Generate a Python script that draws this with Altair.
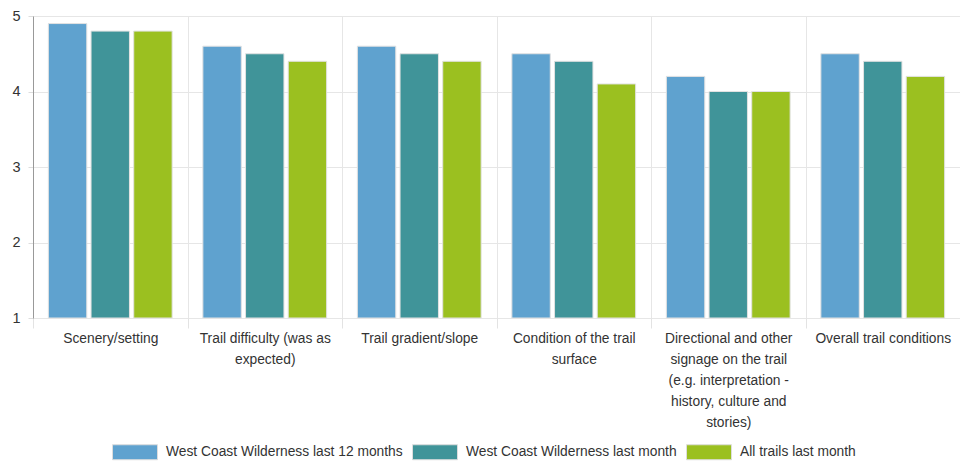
import altair as alt
import pandas as pd

# Category labels (wrapped into lines as in the reference)
label_lines = [
    ["Scenery/setting"],
    ["Trail difficulty (was as", "expected)"],
    ["Trail gradient/slope"],
    ["Condition of the trail", "surface"],
    ["Directional and other", "signage on the trail", "(e.g. interpretation -",
     "history, culture and", "stories)"],
    ["Overall trail conditions"],
]
categories = ["|".join(l) for l in label_lines]

series = [
    "West Coast Wilderness last 12 months",
    "West Coast Wilderness last month",
    "All trails last month",
]
wcw_12_months = [4.9, 4.6, 4.6, 4.5, 4.2, 4.5]
wcw_last_month = [4.8, 4.5, 4.5, 4.4, 4.0, 4.4]
all_trails_last_month = [4.8, 4.4, 4.4, 4.1, 4.0, 4.2]
colors = ["#5fa2cf", "#409499", "#9bc020"]
y_ticks = [1, 2, 3, 4, 5]

rows = []
for name, vals in zip(series, [wcw_12_months, wcw_last_month, all_trails_last_month]):
    for c, v in zip(categories, vals):
        rows.append({"category": c, "series": name, "value": v})
df = pd.DataFrame(rows)

FONT = "Liberation Sans"

chart = alt.Chart(df).mark_bar(stroke="#e2e2e2", strokeWidth=1).encode(
    x=alt.X(
        "category:N", sort=categories,
        scale=alt.Scale(paddingInner=0, paddingOuter=0),
        axis=alt.Axis(
            title=None, labelAngle=0, labelExpr="split(datum.label, '|')",
            labelFontSize=13.8, labelColor="#333333", labelFont=FONT,
            labelLineHeight=21, labelPadding=3, labelBaseline="top",
            tickSize=10, tickColor="#e3e3e3", tickBand="extent",
            grid=True, gridColor="#e6e6e6", domain=False,
            labelLimit=0, labelOverlap=False,
        ),
    ),
    xOffset=alt.XOffset(
        "series:N", sort=series,
        scale=alt.Scale(paddingInner=0.1, paddingOuter=0.36),
    ),
    y=alt.Y(
        "value:Q",
        scale=alt.Scale(domain=[1, 5], nice=False, zero=False),
        axis=alt.Axis(
            title=None, values=y_ticks, format="d",
            labelFontSize=14.5, labelColor="#333333", labelFont=FONT,
            labelPadding=8, tickSize=5, tickColor="#dddddd",
            grid=True, gridColor="#e6e6e6",
            domain=True, domainColor="#999999",
        ),
    ),
    y2=alt.datum(1),
    color=alt.Color(
        "series:N", sort=series,
        scale=alt.Scale(domain=series, range=colors),
        legend=alt.Legend(
            title=None, orient="none", legendX=79, legendY=413,
            direction="horizontal", columns=3,
            symbolType="M-1,-0.333H1V0.333H-1Z", symbolSize=2025,
            symbolStrokeColor="#dddddd", symbolStrokeWidth=1,
            symbolOpacity=1,
            labelFontSize=13.8, labelColor="#333333", labelFont=FONT,
            labelOffset=8, columnPadding=7, padding=0, labelLimit=0,
        ),
    ),
).properties(
    width=927, height=302,
    padding={"left": 33, "top": 16, "right": 0, "bottom": 144},
    autosize=alt.AutoSizeParams(type="none"),
).configure_view(strokeWidth=0).configure(font=FONT)

chart.save("out.html", embed_options={"renderer": "svg", "actions": False})
